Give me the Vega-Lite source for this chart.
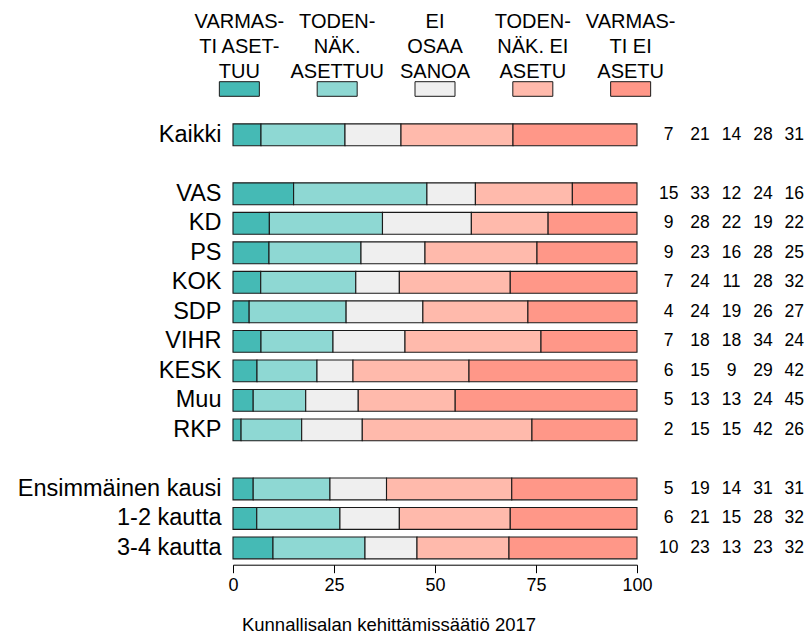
{
  "$schema": "https://vega.github.io/schema/vega-lite/v6.json",
  "autosize": {"type": "pad"},
  "padding": {"left": 17, "top": 12, "right": 5, "bottom": 5},
  "background": "white",
  "config": {"view": {"stroke": null}, "font": "Liberation Sans"},
  "datasets": {
    "rows": [
      {"group": "Kaikki", "v1": 7, "v2": 21, "v3": 14, "v4": 28, "v5": 31},
      {"group": "VAS", "v1": 15, "v2": 33, "v3": 12, "v4": 24, "v5": 16},
      {"group": "KD", "v1": 9, "v2": 28, "v3": 22, "v4": 19, "v5": 22},
      {"group": "PS", "v1": 9, "v2": 23, "v3": 16, "v4": 28, "v5": 25},
      {"group": "KOK", "v1": 7, "v2": 24, "v3": 11, "v4": 28, "v5": 32},
      {"group": "SDP", "v1": 4, "v2": 24, "v3": 19, "v4": 26, "v5": 27},
      {"group": "VIHR", "v1": 7, "v2": 18, "v3": 18, "v4": 34, "v5": 24},
      {"group": "KESK", "v1": 6, "v2": 15, "v3": 9, "v4": 29, "v5": 42},
      {"group": "Muu", "v1": 5, "v2": 13, "v3": 13, "v4": 24, "v5": 45},
      {"group": "RKP", "v1": 2, "v2": 15, "v3": 15, "v4": 42, "v5": 26},
      {"group": "Ensimmäinen kausi", "v1": 5, "v2": 19, "v3": 14, "v4": 31, "v5": 31},
      {"group": "1-2 kautta", "v1": 6, "v2": 21, "v3": 15, "v4": 28, "v5": 32},
      {"group": "3-4 kautta", "v1": 10, "v2": 23, "v3": 13, "v4": 23, "v5": 32}
    ],
    "legend": [
      {"resp": "v1", "label": "VARMAS-\nTI ASET-\nTUU"},
      {"resp": "v2", "label": "TODEN-\nNÄK.\nASETTUU"},
      {"resp": "v3", "label": "EI\nOSAA\nSANOA"},
      {"resp": "v4", "label": "TODEN-\nNÄK. EI\nASETU"},
      {"resp": "v5", "label": "VARMAS-\nTI EI\nASETU"}
    ]
  },
  "columns": 2,
  "bounds": "flush",
  "spacing": {"row": 11, "column": 16},
  "resolve": {"scale": {"x": "independent", "y": "independent"}},
  "concat": [
    {
      "data": {"name": "legend"},
      "width": 404,
      "height": 40,
      "layer": [
        {
          "mark": {"type": "point", "shape": "M-1,-0.365L1,-0.365L1,0.365L-1,0.365Z", "size": 1600, "filled": true, "opacity": 1, "stroke": "#1a1a1a", "strokeWidth": 1},
          "encoding": {
            "x": {"field": "resp", "type": "nominal", "scale": {"type": "point", "padding": 0.065}, "axis": null},
            "color": {"field": "resp", "type": "nominal", "scale": {"domain": ["v1", "v2", "v3", "v4", "v5"], "range": ["#45BAB5", "#8ED8D3", "#EFEFEF", "#FFBAAC", "#FF9788"]}, "legend": null}
          }
        },
        {
          "mark": {"type": "text", "fontSize": 20, "font": "Liberation Sans Narrow, Liberation Sans", "lineBreak": "\n", "lineHeight": 24.65, "baseline": "alphabetic", "dy": -60.7, "color": "black"},
          "encoding": {
            "x": {"field": "resp", "type": "nominal", "scale": {"type": "point", "padding": 0.065}, "axis": null},
            "text": {"field": "label"}
          }
        }
      ]
    },
    {
      "data": {"values": []},
      "mark": "text",
      "width": 157,
      "height": 40
    },
    {
      "data": {"name": "rows"},
      "transform": [{"fold": ["v1", "v2", "v3", "v4", "v5"], "as": ["resp", "pct"]}],
      "width": 404,
      "height": 442.7,
      "mark": {"type": "bar", "stroke": "#1a1a1a", "strokeWidth": 1.1},
      "encoding": {
        "y": {
          "field": "group", "type": "nominal",
          "scale": {"domain": ["Kaikki", " ", "VAS", "KD", "PS", "KOK", "SDP", "VIHR", "KESK", "Muu", "RKP", "  ", "Ensimmäinen kausi", "1-2 kautta", "3-4 kautta"], "paddingInner": 0.26, "paddingOuter": 0.13},
          "axis": {"title": null, "domain": false, "ticks": false, "labelFontSize": 23.5, "labelColor": "black", "labelPadding": 12, "labelLimit": 0}
        },
        "x": {
          "field": "pct", "type": "quantitative", "stack": "normalize",
          "scale": {"domain": [0, 1], "nice": false},
          "axis": {
            "values": [0, 0.25, 0.5, 0.75, 1], "labelExpr": "format(datum.value * 100, 'd')",
            "grid": false, "offset": 2, "tickSize": 8, "tickColor": "black", "domainColor": "black",
            "labelFontSize": 18, "labelColor": "black", "labelPadding": 4, "labelFlush": false,
            "title": "Kunnallisalan kehittämissäätiö 2017", "titleFontSize": 18.5, "titleFontWeight": "normal",
            "titleColor": "black", "titleX": 155.5, "titleY": 65.6, "titleBaseline": "alphabetic", "titleAlign": "center"
          }
        },
        "color": {"field": "resp", "type": "nominal", "scale": {"domain": ["v1", "v2", "v3", "v4", "v5"], "range": ["#45BAB5", "#8ED8D3", "#EFEFEF", "#FFBAAC", "#FF9788"]}, "legend": null},
        "order": {"field": "resp", "type": "ordinal"}
      }
    },
    {
      "data": {"name": "rows"},
      "transform": [{"fold": ["v1", "v2", "v3", "v4", "v5"], "as": ["resp", "pct"]}],
      "width": 157,
      "height": 442.7,
      "mark": {"type": "text", "fontSize": 17.5, "color": "black", "baseline": "middle"},
      "encoding": {
        "y": {
          "field": "group", "type": "nominal",
          "scale": {"domain": ["Kaikki", " ", "VAS", "KD", "PS", "KOK", "SDP", "VIHR", "KESK", "Muu", "RKP", "  ", "Ensimmäinen kausi", "1-2 kautta", "3-4 kautta"], "paddingInner": 0.26, "paddingOuter": 0.13},
          "axis": null
        },
        "x": {"field": "resp", "type": "nominal", "scale": {"domain": ["v1", "v2", "v3", "v4", "v5"]}, "axis": null},
        "text": {"field": "pct", "type": "quantitative"}
      }
    }
  ]
}
